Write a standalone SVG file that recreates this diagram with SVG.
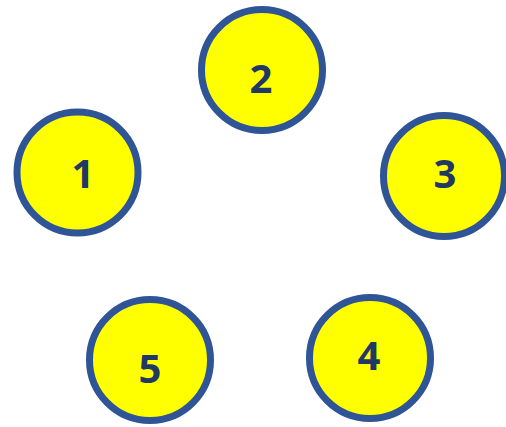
<svg xmlns="http://www.w3.org/2000/svg" width="506" height="427" viewBox="0 0 506 427">
<style>
.c{fill:#FFFF00;stroke:#2F5597;stroke-width:7}
.t{font-family:"Open Sans","Liberation Sans",sans-serif;font-weight:bold;font-size:40px;fill:#1F3864;text-anchor:middle}
</style>
<rect width="506" height="427" fill="#fff"/>
<g id="connectors"></g>
<g id="n1"><circle class="c" cx="77.5" cy="172.5" r="60.5"/><text class="t" x="83" y="188">1</text></g>
<g id="n2"><circle class="c" cx="262" cy="70" r="60.5"/><text class="t" x="261" y="93">2</text></g>
<g id="n3"><circle class="c" cx="444" cy="176" r="60.5"/><text class="t" x="445" y="188">3</text></g>
<g id="n4"><circle class="c" cx="370" cy="358" r="60.5"/><text class="t" x="369" y="370">4</text></g>
<g id="n5"><circle class="c" cx="150" cy="360" r="60.5"/><text class="t" x="150" y="383">5</text></g>
</svg>
